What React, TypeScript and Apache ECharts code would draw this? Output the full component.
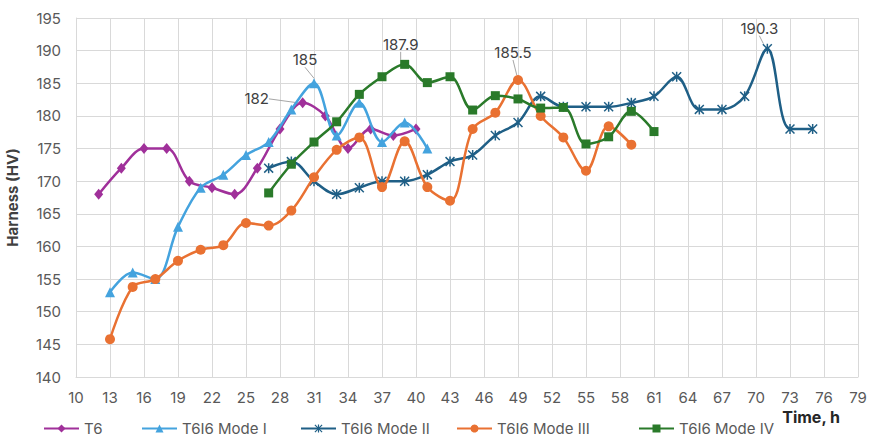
import React, { useEffect, useRef } from "react";
import * as echarts from "echarts";

// ---- data (x = time in hours, y = hardness HV) ----
const X_MIN = 10;
const X_MAX = 79;
const X_STEP = 3;
const Y_MIN = 140;
const Y_MAX = 195;
const Y_STEP = 5;

const t6: [number, number][] = [
  [12, 168], [14, 172], [16, 175], [18, 175], [20, 170], [22, 169], [24, 168], [26, 172],
  [28, 178], [30, 182], [32, 180], [34, 175], [36, 178], [38, 177], [40, 178],
];
const modeI: [number, number][] = [
  [13, 153], [15, 156], [17, 155], [19, 163], [21, 169], [23, 171], [25, 174], [27, 176],
  [29, 181], [31, 185], [33, 177], [35, 182], [37, 176], [39, 179], [41, 175],
];
const modeII: [number, number][] = [
  [27, 172], [29, 173], [31, 170], [33, 168], [35, 169], [37, 170], [39, 170], [41, 171],
  [43, 173], [45, 174], [47, 177], [49, 179], [51, 183], [53, 181.4], [55, 181.4], [57, 181.4],
  [59, 182], [61, 183], [63, 186], [65, 181], [67, 181], [69, 183], [71, 190.3], [73, 178], [75, 178],
];
const modeIII: [number, number][] = [
  [13, 145.8], [15, 153.8], [17, 155], [19, 157.8], [21, 159.5], [23, 160.2], [25, 163.6], [27, 163.2],
  [29, 165.5], [31, 170.6], [33, 174.8], [35, 176.7], [37, 169.1], [39, 176.1], [41, 169.1], [43, 167],
  [45, 178], [47, 180.5], [49, 185.5], [51, 180], [53, 176.7], [55, 171.6], [57, 178.4], [59, 175.6],
];
const modeIV: [number, number][] = [
  [27, 168.2], [29, 172.6], [31, 176], [33, 179.1], [35, 183.3], [37, 186], [39, 187.9], [41, 185.1],
  [43, 186], [45, 180.9], [47, 183.1], [49, 182.6], [51, 181.2], [53, 181.3], [55, 175.7], [57, 176.8],
  [59, 180.7], [61, 177.6],
];

const seriesNames = ["T6", "T6I6 Mode I", "T6I6 Mode II", "T6I6 Mode III", "T6I6 Mode IV"];
// callout (data label) shown at these x values per series
const calloutX: (number | null)[] = [30, 31, 71, 49, 39];

const ASTERISK =
  "path://M8.5,0 L11.5,0 L11.5,20 L8.5,20 Z M2.1,0 L20,17.9 L17.9,20 L0,2.1 Z M17.9,0 L20,2.1 L2.1,20 L0,17.9 Z";

const styles = [
  { color: "#a0309a", symbol: "diamond", size: [9, 11] as any },
  { color: "#44a3de", symbol: "triangle", size: 10 },
  { color: "#1f5f86", symbol: ASTERISK, size: 10 },
  { color: "#e97132", symbol: "circle", size: 10 },
  { color: "#2a7a2a", symbol: "rect", size: 9 },
];
// label offsets (dx, dy) for each series' callout
const labelOffsets: [number, number][] = [
  [-46, 14],
  [-9, -6],
  [-8, -3],
  [-5, -10],
  [-4, -3],
];
const legendLeft = [43, 141, 300, 456, 638];

export default function App() {
  const ref = useRef<HTMLDivElement>(null);
  useEffect(() => {
    if (!ref.current) return;
    const chart = echarts.init(ref.current, undefined, { renderer: "svg" });
    const allData = [t6, modeI, modeII, modeIII, modeIV];
    const font = "Inter, 'Open Sans', sans-serif";

    const series = allData.map((d, si) => ({
      name: seriesNames[si],
      type: "line",
      smooth: 0.35,
      symbol: styles[si].symbol,
      symbolSize: styles[si].size,
      lineStyle: { width: 2.5, color: styles[si].color },
      itemStyle: { color: styles[si].color },
      z: 2 + si,
      data: d.map(([x, y]) =>
        x === calloutX[si]
          ? {
              value: [x - X_MIN, y],
              label: {
                show: true,
                position: "top",
                distance: 5,
                formatter: (p: any) => String(p.value[1]),
                fontFamily: font,
                fontSize: 15,
                color: "#404040",
              },
              labelLine: { show: true, lineStyle: { color: "#a6a6a6", width: 1 } },
            }
          : { value: [x - X_MIN, y] }
      ),
      labelLayout: () => ({ dx: labelOffsets[si][0], dy: labelOffsets[si][1] }),
    }));

    const legends = seriesNames.map((n, i) => ({
      data: [n],
      left: legendLeft[i],
      top: 421,
      itemWidth: 35,
      itemHeight: 10,
      itemGap: 0,
      padding: 0,
      textStyle: { fontFamily: font, fontSize: 15, lineHeight: 15, color: "#595959" },
    }));

    chart.setOption({
      animation: false,
      backgroundColor: "#ffffff",
      legend: legends,
      grid: {
        left: 76,
        right: 12,
        top: 18,
        bottom: 60,
        containLabel: false,
        outerBoundsMode: "none",
      },
      xAxis: {
        type: "value",
        min: 0,
        max: X_MAX - X_MIN,
        interval: X_STEP,
        name: "Time, h",
        nameLocation: "end",
        nameGap: 0,
        nameTextStyle: {
          fontFamily: font,
          fontSize: 16,
          fontWeight: "bold",
          color: "#262626",
          align: "right",
          verticalAlign: "top",
          padding: [32, 18, 0, 0],
        },
        axisLine: { show: true, lineStyle: { color: "#d9d9d9", width: 1 } },
        axisTick: { show: false },
        axisLabel: {
          margin: 13,
          fontFamily: font,
          fontSize: 15,
          color: "#595959",
          formatter: (v: number) => String(v + X_MIN),
        },
        splitLine: { show: true, lineStyle: { color: "#d9d9d9", width: 1 } },
      },
      yAxis: {
        type: "value",
        min: Y_MIN,
        max: Y_MAX,
        interval: Y_STEP,
        name: "Harness (HV)",
        nameLocation: "middle",
        nameGap: 56,
        nameTextStyle: { fontFamily: font, fontSize: 15, fontWeight: "bold", color: "#404040" },
        axisLine: { show: true, lineStyle: { color: "#d9d9d9", width: 1 } },
        axisTick: { show: false },
        axisLabel: { margin: 15, fontFamily: font, fontSize: 15, color: "#595959" },
        splitLine: { show: true, lineStyle: { color: "#d9d9d9", width: 1 } },
      },
      series,
    });
    return () => chart.dispose();
  }, []);
  return (
    <div
      ref={ref}
      style={{ position: "fixed", left: 0, top: 0, width: 870, height: 437, background: "#fff" }}
    />
  );
}
